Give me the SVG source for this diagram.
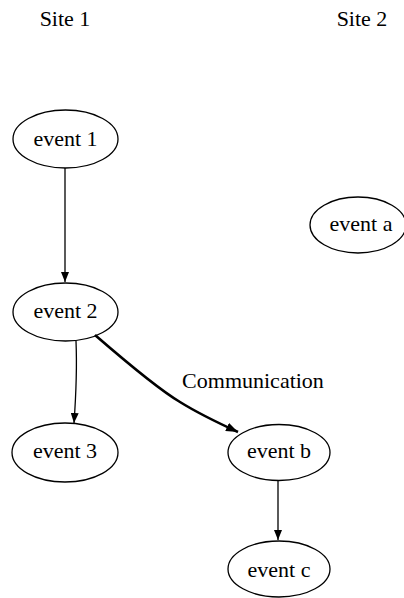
<svg xmlns="http://www.w3.org/2000/svg" width="404" height="598" viewBox="0 0 404 598">
  <style>
    .node ellipse { fill: none; stroke: #000; stroke-width: 1.3; }
    text { font-family: "Liberation Serif", "Times New Roman", serif; font-size: 22px; fill: #000; text-anchor: middle; }
    .edge { fill: none; stroke: #000; stroke-width: 1.3; }
    .edge.bold { stroke-width: 2.6; }
  </style>
  <defs>
    <marker id="arrow" viewBox="0 0 10 8" refX="10" refY="4" markerWidth="10" markerHeight="8" markerUnits="userSpaceOnUse" orient="auto">
      <path d="M0,0 L10,4 L0,8 Z" fill="#000"/>
    </marker>
    <marker id="arrowBold" viewBox="0 0 12 9" refX="12" refY="4.5" markerWidth="12" markerHeight="9" markerUnits="userSpaceOnUse" orient="auto">
      <path d="M0,0 L12,4.5 L0,9 Z" fill="#000"/>
    </marker>
  </defs>

  <rect width="404" height="598" fill="#fff"/>

  <!-- column headers -->
  <text x="65" y="26">Site 1</text>
  <text x="362" y="26">Site 2</text>

  <g id="connectors">
    <path class="edge" d="M65,168 L65,282" marker-end="url(#arrow)"/>
    <path class="edge" d="M76,341 C77,365 76,395 74,423" marker-end="url(#arrow)"/>
    <path class="edge bold" d="M95,335 C125,361 158,389 180,402 C196,412 214,421 238,432" marker-end="url(#arrowBold)"/>
    <path class="edge" d="M278,481 L278,540" marker-end="url(#arrow)"/>
    <text x="253" y="388">Communication</text>
  </g>

  <g id="event1" class="node">
    <ellipse cx="65.5" cy="139" rx="52.5" ry="29"/>
    <text x="65.5" y="146">event 1</text>
  </g>
  <g id="event2" class="node">
    <ellipse cx="65.5" cy="312" rx="52.5" ry="29"/>
    <text x="65.5" y="318">event 2</text>
  </g>
  <g id="event3" class="node">
    <ellipse cx="65" cy="452.5" rx="53" ry="29.5"/>
    <text x="65" y="458">event 3</text>
  </g>
  <g id="eventa" class="node">
    <ellipse cx="358" cy="225" rx="48" ry="28"/>
    <text x="361" y="231">event a</text>
  </g>
  <g id="eventb" class="node">
    <ellipse cx="279" cy="452.5" rx="51" ry="28"/>
    <text x="279" y="458">event b</text>
  </g>
  <g id="eventc" class="node">
    <ellipse cx="279" cy="569" rx="51" ry="28"/>
    <text x="279" y="577">event c</text>
  </g>
</svg>
